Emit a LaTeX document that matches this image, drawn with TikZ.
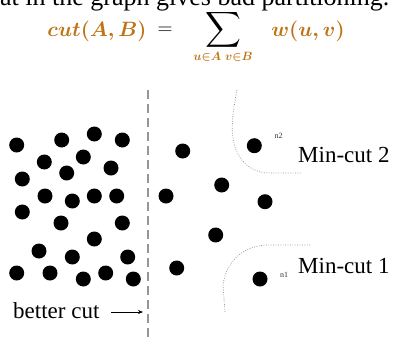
\documentclass[tikz,border=0pt]{standalone}
\usepackage{amsmath}
\usepackage{fontspec}
\setmainfont{Liberation Serif}
\usetikzlibrary{arrows.meta}
\definecolor{formula}{RGB}{190,115,20}
\definecolor{cutgray}{RGB}{150,150,150}
\tikzset{
  dot/.style={circle,fill=black,inner sep=0pt,minimum size=15pt},
  lbl/.style={inner sep=0pt,font=\fontsize{23}{26}\selectfont},
  tiny/.style={inner sep=0pt,font=\fontsize{8}{9}\selectfont,text=black!80},
  mincut/.style={cutgray,line width=0.8pt,dash pattern=on 0.8pt off 1.6pt},
  better/.style={cutgray,line width=2.8pt,dash pattern=on 9pt off 5pt},
  fml/.style={inner sep=0pt,text=formula}
}
\begin{document}
\begin{tikzpicture}[x=1pt,y=-1pt]
\useasboundingbox (0,0) rectangle (398,338);
\clip (0,0) rectangle (398,338);
% top cropped line
\node[anchor=base west,inner sep=0pt,font=\fontsize{26}{28}\selectfont] (top) at (0,5) {at in the graph gives bad partitioning.};
% formula
\node[fml,font=\fontsize{22}{24}\selectfont\boldmath] (cutab) at (97,31) {$cut(A,B)$};
\node[inner sep=0pt,font=\fontsize{22}{24}\selectfont] (eq) at (165,31) {$=$};
\node[inner sep=0pt,font=\fontsize{24}{28}\selectfont\boldmath] (sig) at (223,30) {$\displaystyle\sum$};
\node[fml,font=\fontsize{12}{13}\selectfont\boldmath] (sub) at (223,57) {$u{\in}A\;v{\in}B$};
\node[fml,font=\fontsize{22}{24}\selectfont\boldmath] (wuv) at (308,31) {$w(u,v)$};
% better cut dashed line
\coordinate (bt) at (148,90);
\coordinate (bb) at (148,338);
\draw[better] (bt) -- (bb);
% left cluster
\foreach \i/\x/\y in {1/16.7/145,2/61.7/140,3/94.3/134,4/122.3/140,5/44.3/162,6/83.3/157,7/66.7/173,8/111/168,9/22.3/179,10/45/196,11/72.3/201,12/94.3/196,13/116.7/196,14/22.3/212,15/61/223,16/122.3/223,17/94.3/239,18/39/251,19/72.3/257,20/127.7/257,21/16.7/273,22/50/273,23/83.3/279,24/105.7/273,25/133.3/279}
  \node[dot] (l\i) at (\x,\y) {};
% right side
\foreach \i/\x/\y in {1/182.7/151,2/166/196,3/176.7/268,4/221.7/185,5/265/201.7,6/215.7/235}
  \node[dot] (r\i) at (\x,\y) {};
\node[dot] (n2) at (254.3,145.7) {};
\node[dot] (n1) at (260,279) {};
\node[tiny] (n2l) at (278.5,136) {n2};
\node[tiny] (n1l) at (284,275) {n1};
% min-cut curves
\draw[mincut] (237,90) .. controls (232,115) and (230,135) .. (236,150) .. controls (243,166) and (255,173) .. (270,173) -- (302,173);
\draw[mincut] (310,245) -- (265,245) .. controls (242,247) and (226,262) .. (223,285) -- (225,312);
% labels
\node[lbl,anchor=west] (mc2) at (298,155) {Min-cut 2};
\node[lbl,anchor=west] (mc1) at (298,266) {Min-cut 1};
\node[lbl,anchor=west] (bc) at (13,311) {better cut};
\coordinate (arrs) at (111,312);
\coordinate (arre) at (143,312);
\draw[-{Stealth[length=5pt,width=4pt]},line width=0.7pt] (arrs) -- (arre);
\end{tikzpicture}
\end{document}
